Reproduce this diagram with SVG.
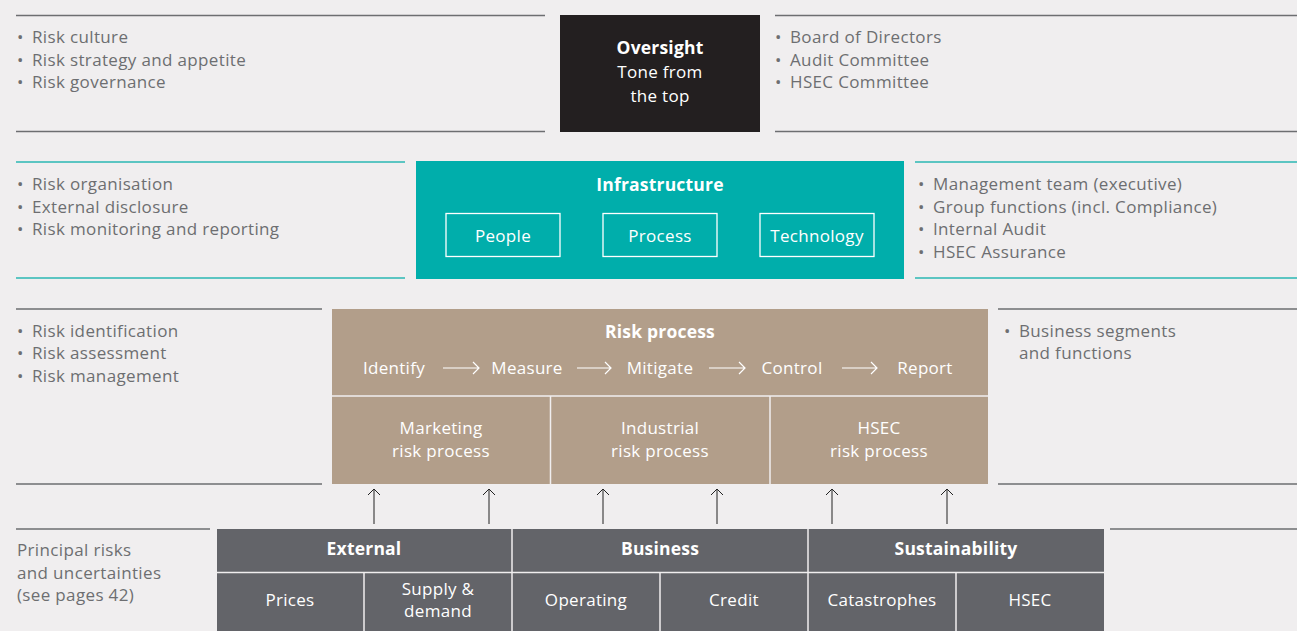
<svg xmlns="http://www.w3.org/2000/svg" width="1297" height="631" viewBox="0 0 1297 631">
<defs>
<style>
text{font-family:"Open Sans","Liberation Sans",sans-serif}
.t{font-size:17px;fill:#6d6e71;letter-spacing:0.35px}
.w{font-size:17px;fill:#ffffff;letter-spacing:0.3px}
.wb{font-size:17.5px;fill:#ffffff;font-weight:bold;letter-spacing:0.2px}
.c{text-anchor:middle}
.gl{stroke:#6d6e71;stroke-width:1.5}
.tl{stroke:#2bb7b3;stroke-width:1.5}
.ar{stroke:#222;stroke-width:1;fill:none}
.fa{stroke:#fff;stroke-width:1.3;fill:none}
.dv{stroke:#f0eeef;stroke-width:1.5}
</style>
</defs>
<rect width="1297" height="631" fill="#f0eeef"/>

<g id="rules">
<line class="gl" x1="16" y1="15.5" x2="545" y2="15.5"/>
<line class="gl" x1="16" y1="131.5" x2="545" y2="131.5"/>
<line class="gl" x1="775" y1="15.5" x2="1297" y2="15.5"/>
<line class="gl" x1="775" y1="131.5" x2="1297" y2="131.5"/>
<line class="tl" x1="16" y1="162" x2="405" y2="162"/>
<line class="tl" x1="16" y1="278" x2="405" y2="278"/>
<line class="tl" x1="915" y1="162" x2="1297" y2="162"/>
<line class="tl" x1="915" y1="278" x2="1297" y2="278"/>
<line class="gl" x1="16" y1="309" x2="322" y2="309"/>
<line class="gl" x1="16" y1="484" x2="322" y2="484"/>
<line class="gl" x1="998" y1="309" x2="1297" y2="309"/>
<line class="gl" x1="998" y1="484" x2="1297" y2="484"/>
<line class="gl" x1="16" y1="529" x2="210" y2="529"/>
<line class="gl" x1="1110" y1="529" x2="1297" y2="529"/>
</g>

<g id="oversight-left">
<text class="t" x="17" y="43">•</text><text class="t" x="32" y="43">Risk culture</text>
<text class="t" x="17" y="66">•</text><text class="t" x="32" y="66">Risk strategy and appetite</text>
<text class="t" x="17" y="88">•</text><text class="t" x="32" y="88">Risk governance</text>
</g>
<g id="oversight">
<rect x="560" y="15" width="200" height="117" fill="#231f20"/>
<text class="wb c" x="660" y="54">Oversight</text>
<text class="w c" x="660" y="78">Tone from</text>
<text class="w c" x="660" y="102">the top</text>
</g>
<g id="oversight-right">
<text class="t" x="775" y="43">•</text><text class="t" x="790" y="43">Board of Directors</text>
<text class="t" x="775" y="66">•</text><text class="t" x="790" y="66">Audit Committee</text>
<text class="t" x="775" y="88">•</text><text class="t" x="790" y="88">HSEC Committee</text>
</g>

<g id="infra-left">
<text class="t" x="17" y="190">•</text><text class="t" x="32" y="190">Risk organisation</text>
<text class="t" x="17" y="213">•</text><text class="t" x="32" y="213">External disclosure</text>
<text class="t" x="17" y="235">•</text><text class="t" x="32" y="235">Risk monitoring and reporting</text>
</g>
<g id="infrastructure">
<rect x="416" y="161" width="488" height="118" fill="#00aeab"/>
<text class="wb c" x="660" y="191">Infrastructure</text>
<rect class="fa" x="446" y="213.5" width="114" height="43"/>
<rect class="fa" x="603" y="213.5" width="114" height="43"/>
<rect class="fa" x="760" y="213.5" width="114" height="43"/>
<text class="w c" x="503" y="242">People</text>
<text class="w c" x="660" y="242">Process</text>
<text class="w c" x="817" y="242">Technology</text>
</g>
<g id="infra-right">
<text class="t" x="918" y="190">•</text><text class="t" x="933" y="190">Management team (executive)</text>
<text class="t" x="918" y="213">•</text><text class="t" x="933" y="213">Group functions (incl. Compliance)</text>
<text class="t" x="918" y="235">•</text><text class="t" x="933" y="235">Internal Audit</text>
<text class="t" x="918" y="258">•</text><text class="t" x="933" y="258">HSEC Assurance</text>
</g>

<g id="process-left">
<text class="t" x="17" y="337">•</text><text class="t" x="32" y="337">Risk identification</text>
<text class="t" x="17" y="359">•</text><text class="t" x="32" y="359">Risk assessment</text>
<text class="t" x="17" y="382">•</text><text class="t" x="32" y="382">Risk management</text>
</g>
<g id="risk-process">
<rect x="332" y="309" width="656" height="175" fill="#b29e8a"/>
<line class="dv" x1="332" y1="396" x2="988" y2="396"/>
<line class="dv" x1="550.5" y1="396" x2="550.5" y2="484"/>
<line class="dv" x1="770" y1="396" x2="770" y2="484"/>
<text class="wb c" x="660" y="338">Risk process</text>
<text class="w c" x="394" y="374">Identify</text>
<text class="w c" x="527" y="374">Measure</text>
<text class="w c" x="660" y="374">Mitigate</text>
<text class="w c" x="792" y="374">Control</text>
<text class="w c" x="925" y="374">Report</text>
<g stroke="#fff" stroke-width="1.2" fill="none">
<path d="M443,368 H479 M473,362 L479,368 L473,374"/>
<path d="M577,368 H611 M605,362 L611,368 L605,374"/>
<path d="M709,368 H745 M739,362 L745,368 L739,374"/>
<path d="M842,368 H877 M871,362 L877,368 L871,374"/>
</g>
<text class="w c" x="441" y="434">Marketing</text>
<text class="w c" x="441" y="457">risk process</text>
<text class="w c" x="660" y="434">Industrial</text>
<text class="w c" x="660" y="457">risk process</text>
<text class="w c" x="879" y="434">HSEC</text>
<text class="w c" x="879" y="457">risk process</text>
</g>
<g id="process-right">
<text class="t" x="1004" y="337">•</text><text class="t" x="1019" y="337">Business segments</text>
<text class="t" x="1019" y="359">and functions</text>
</g>

<g id="connectors" class="ar">
<path d="M374,524 V489 M368,495 L374,489 L380,495"/>
<path d="M489,524 V489 M483,495 L489,489 L495,495"/>
<path d="M603,524 V489 M597,495 L603,489 L609,495"/>
<path d="M717,524 V489 M711,495 L717,489 L723,495"/>
<path d="M832,524 V489 M826,495 L832,489 L838,495"/>
<path d="M947,524 V489 M941,495 L947,489 L953,495"/>
</g>

<g id="principal-left">
<text class="t" x="17" y="556">Principal risks</text>
<text class="t" x="17" y="579">and uncertainties</text>
<text class="t" x="17" y="601">(see pages 42)</text>
</g>
<g id="principal-risks">
<rect x="217" y="529" width="887" height="102" fill="#636469"/>
<line class="dv" x1="217" y1="572.5" x2="1104" y2="572.5"/>
<line class="dv" x1="512" y1="529" x2="512" y2="631"/>
<line class="dv" x1="808" y1="529" x2="808" y2="631"/>
<line class="dv" x1="364" y1="572" x2="364" y2="631"/>
<line class="dv" x1="660" y1="572" x2="660" y2="631"/>
<line class="dv" x1="956" y1="572" x2="956" y2="631"/>
<text class="wb c" x="364" y="555">External</text>
<text class="wb c" x="660" y="555">Business</text>
<text class="wb c" x="956" y="555">Sustainability</text>
<text class="w c" x="290" y="606">Prices</text>
<text class="w c" x="438" y="595">Supply &amp;</text>
<text class="w c" x="438" y="617">demand</text>
<text class="w c" x="586" y="606">Operating</text>
<text class="w c" x="734" y="606">Credit</text>
<text class="w c" x="882" y="606">Catastrophes</text>
<text class="w c" x="1030" y="606">HSEC</text>
</g>
</svg>
